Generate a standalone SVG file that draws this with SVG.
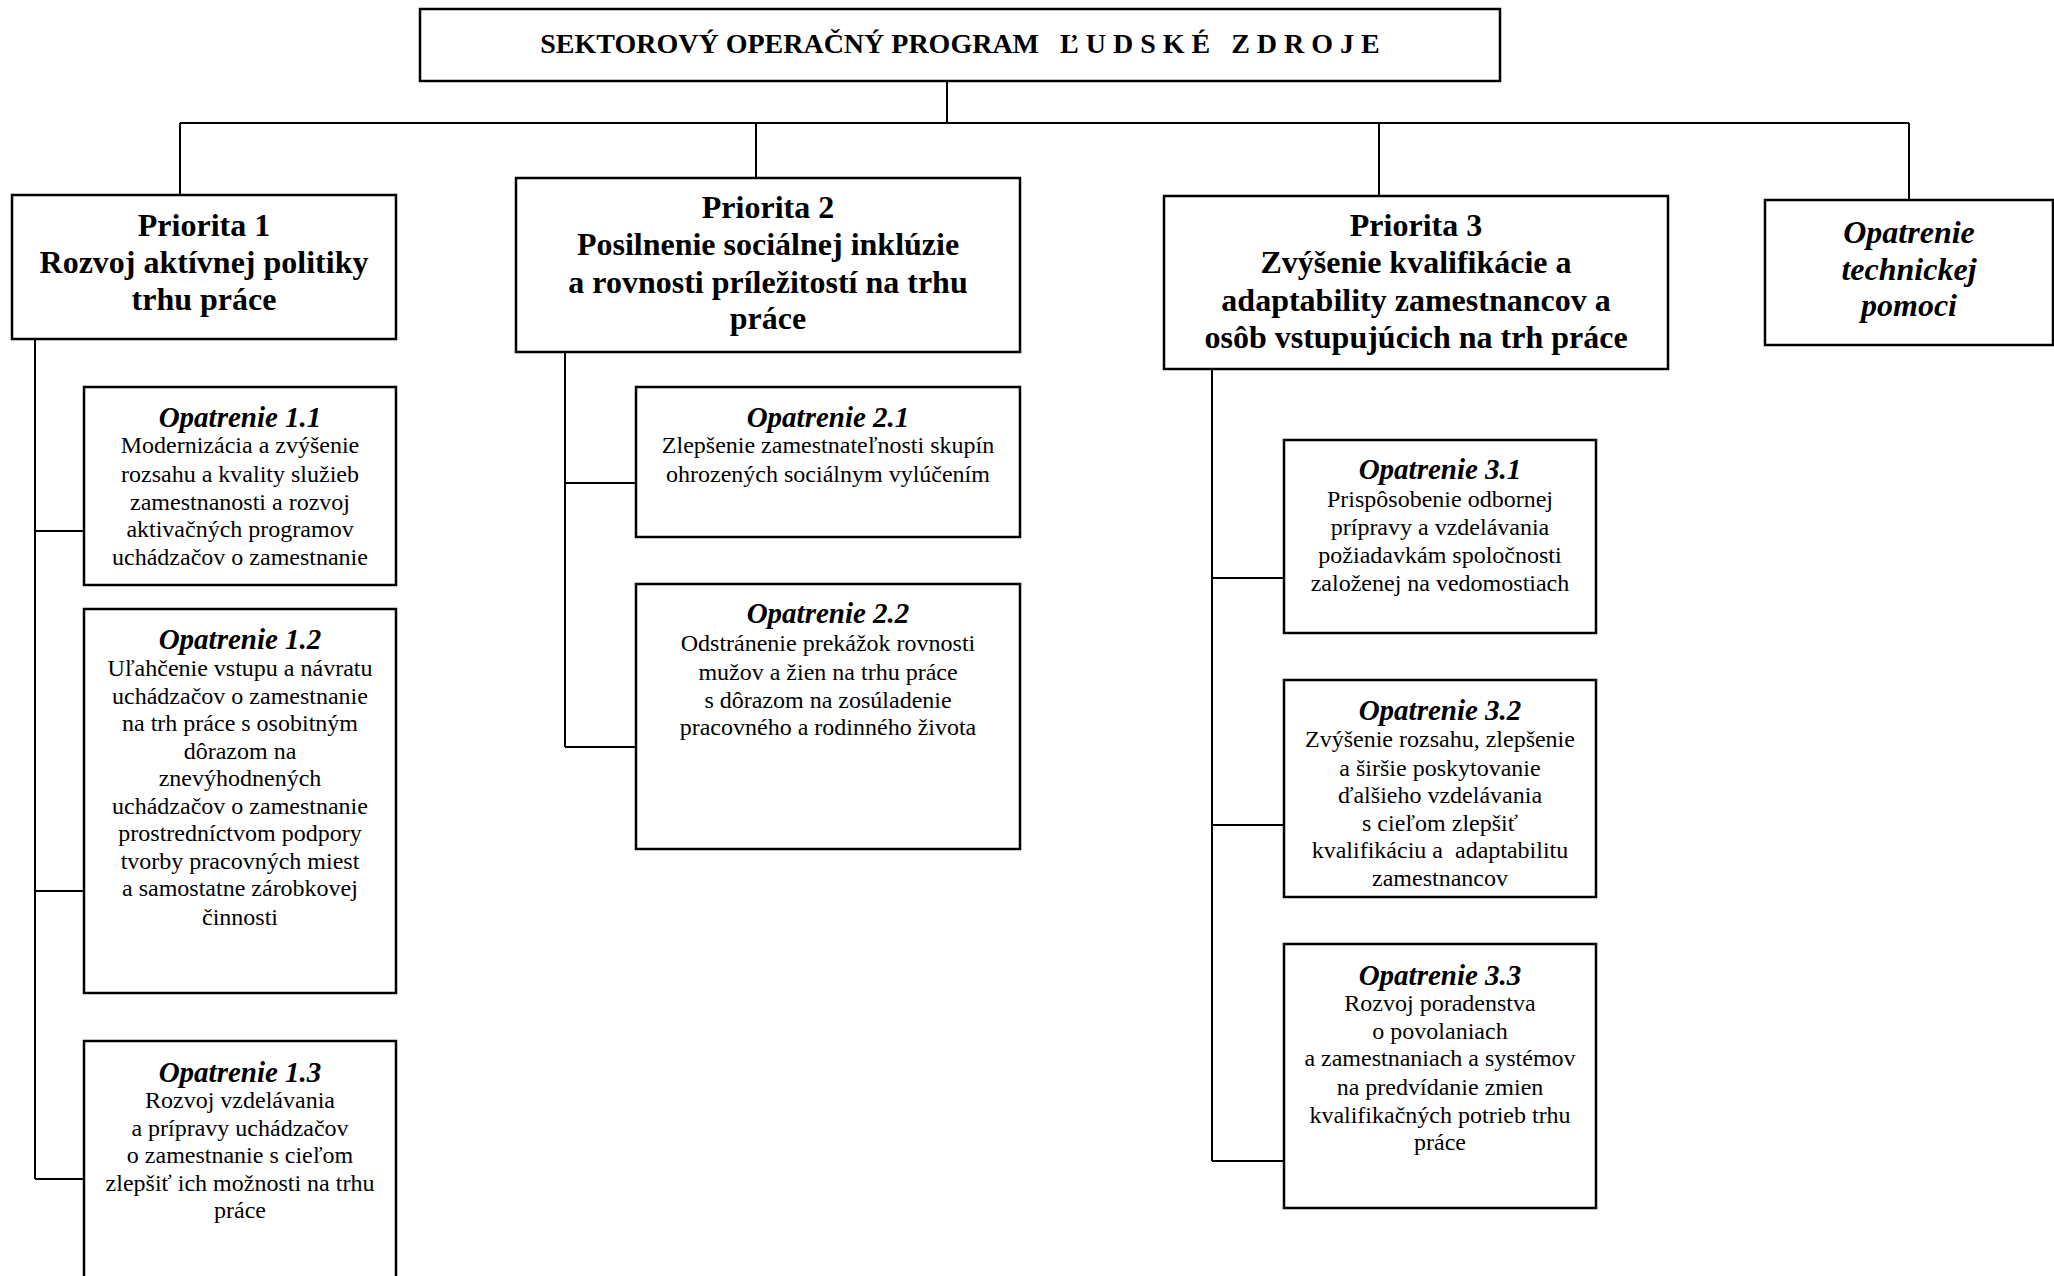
<svg xmlns="http://www.w3.org/2000/svg" width="2054" height="1276" viewBox="0 0 2054 1276">
<style>
.box{fill:#fff;stroke:#000;stroke-width:2.5}
.ln{fill:none;stroke:#000;stroke-width:2}
text{font-family:"Liberation Serif","Times New Roman",serif;fill:#000;text-anchor:middle}
.title{font-size:28px;font-weight:bold;white-space:pre}
.pri{font-size:32px;font-weight:bold}
.ta{font-size:32px;font-weight:bold;font-style:italic}
.oh{font-size:29px;font-weight:bold;font-style:italic}
.ob{font-size:24px}
</style>
<rect width="2054" height="1276" fill="#fff"/>
<g id="connectors">
<path class="ln" d="M947 81V123M180 123H1909M180 123V195M756 123V178M1379 123V196M1909 123V200"/>
<path class="ln" d="M35 339V1179M35 531H84M35 891H84M35 1179H84"/>
<path class="ln" d="M565 344V747M565 483H636M565 747H636"/>
<path class="ln" d="M1212 369V1161M1212 578H1284M1212 825H1284M1212 1161H1284"/>
</g>
<g id="title">
<rect class="box" x="420" y="9" width="1080" height="72"/>
<text class="title" x="960" y="53">SEKTOROVÝ OPERAČNÝ PROGRAM   Ľ U D S K É   Z D R O J E</text>
</g>
<g id="p1">
<rect class="box" x="12" y="195" width="384" height="144"/>
<text class="pri" x="204" y="236">Priorita 1</text>
<text class="pri" x="204" y="273">Rozvoj aktívnej politiky</text>
<text class="pri" x="204" y="310">trhu práce</text>
</g>
<g id="p2">
<rect class="box" x="516" y="178" width="504" height="174"/>
<text class="pri" x="768" y="218">Priorita 2</text>
<text class="pri" x="768" y="255">Posilnenie sociálnej inklúzie</text>
<text class="pri" x="768" y="293">a rovnosti príležitostí na trhu</text>
<text class="pri" x="768" y="329">práce</text>
</g>
<g id="p3">
<rect class="box" x="1164" y="196" width="504" height="173"/>
<text class="pri" x="1416" y="236">Priorita 3</text>
<text class="pri" x="1416" y="273">Zvýšenie kvalifikácie a</text>
<text class="pri" x="1416" y="311">adaptability zamestnancov a</text>
<text class="pri" x="1416" y="348">osôb vstupujúcich na trh práce</text>
</g>
<g id="ta">
<rect class="box" x="1765" y="200" width="288" height="145"/>
<text class="ta" x="1909" y="243">Opatrenie</text>
<text class="ta" x="1909" y="280">technickej</text>
<text class="ta" x="1909" y="316">pomoci</text>
</g>
<g id="o11">
<rect class="box" x="84" y="387" width="312" height="198"/>
<text class="oh" x="240" y="427">Opatrenie 1.1</text>
<text class="ob" x="240" y="453">Modernizácia a zvýšenie</text>
<text class="ob" x="240" y="482">rozsahu a kvality služieb</text>
<text class="ob" x="240" y="510">zamestnanosti a rozvoj</text>
<text class="ob" x="240" y="537">aktivačných programov</text>
<text class="ob" x="240" y="565">uchádzačov o zamestnanie</text>
</g>
<g id="o12">
<rect class="box" x="84" y="609" width="312" height="384"/>
<text class="oh" x="240" y="649">Opatrenie 1.2</text>
<text class="ob" x="240" y="676">Uľahčenie vstupu a návratu</text>
<text class="ob" x="240" y="704">uchádzačov o zamestnanie</text>
<text class="ob" x="240" y="731">na trh práce s osobitným</text>
<text class="ob" x="240" y="759">dôrazom na</text>
<text class="ob" x="240" y="786">znevýhodnených</text>
<text class="ob" x="240" y="814">uchádzačov o zamestnanie</text>
<text class="ob" x="240" y="841">prostredníctvom podpory</text>
<text class="ob" x="240" y="869">tvorby pracovných miest</text>
<text class="ob" x="240" y="896">a samostatne zárobkovej</text>
<text class="ob" x="240" y="925">činnosti</text>
</g>
<g id="o13">
<rect class="box" x="84" y="1041" width="312" height="260"/>
<text class="oh" x="240" y="1082">Opatrenie 1.3</text>
<text class="ob" x="240" y="1108">Rozvoj vzdelávania</text>
<text class="ob" x="240" y="1136">a prípravy uchádzačov</text>
<text class="ob" x="240" y="1163">o zamestnanie s cieľom</text>
<text class="ob" x="240" y="1191">zlepšiť ich možnosti na trhu</text>
<text class="ob" x="240" y="1218">práce</text>
</g>
<g id="o21">
<rect class="box" x="636" y="387" width="384" height="150"/>
<text class="oh" x="828" y="427">Opatrenie 2.1</text>
<text class="ob" x="828" y="453">Zlepšenie zamestnateľnosti skupín</text>
<text class="ob" x="828" y="482">ohrozených sociálnym vylúčením</text>
</g>
<g id="o22">
<rect class="box" x="636" y="584" width="384" height="265"/>
<text class="oh" x="828" y="623">Opatrenie 2.2</text>
<text class="ob" x="828" y="651">Odstránenie prekážok rovnosti</text>
<text class="ob" x="828" y="680">mužov a žien na trhu práce</text>
<text class="ob" x="828" y="708">s dôrazom na zosúladenie</text>
<text class="ob" x="828" y="735">pracovného a rodinného života</text>
</g>
<g id="o31">
<rect class="box" x="1284" y="440" width="312" height="193"/>
<text class="oh" x="1440" y="479">Opatrenie 3.1</text>
<text class="ob" x="1440" y="507">Prispôsobenie odbornej</text>
<text class="ob" x="1440" y="535">prípravy a vzdelávania</text>
<text class="ob" x="1440" y="563">požiadavkám spoločnosti</text>
<text class="ob" x="1440" y="591">založenej na vedomostiach</text>
</g>
<g id="o32">
<rect class="box" x="1284" y="680" width="312" height="217"/>
<text class="oh" x="1440" y="720">Opatrenie 3.2</text>
<text class="ob" x="1440" y="747">Zvýšenie rozsahu, zlepšenie</text>
<text class="ob" x="1440" y="776">a širšie poskytovanie</text>
<text class="ob" x="1440" y="803">ďalšieho vzdelávania</text>
<text class="ob" x="1440" y="831">s cieľom zlepšiť</text>
<text class="ob" x="1440" y="858" style="white-space:pre">kvalifikáciu a  adaptabilitu</text>
<text class="ob" x="1440" y="886">zamestnancov</text>
</g>
<g id="o33">
<rect class="box" x="1284" y="944" width="312" height="264"/>
<text class="oh" x="1440" y="985">Opatrenie 3.3</text>
<text class="ob" x="1440" y="1011">Rozvoj poradenstva</text>
<text class="ob" x="1440" y="1039">o povolaniach</text>
<text class="ob" x="1440" y="1066">a zamestnaniach a systémov</text>
<text class="ob" x="1440" y="1095">na predvídanie zmien</text>
<text class="ob" x="1440" y="1123">kvalifikačných potrieb trhu</text>
<text class="ob" x="1440" y="1150">práce</text>
</g>
</svg>
